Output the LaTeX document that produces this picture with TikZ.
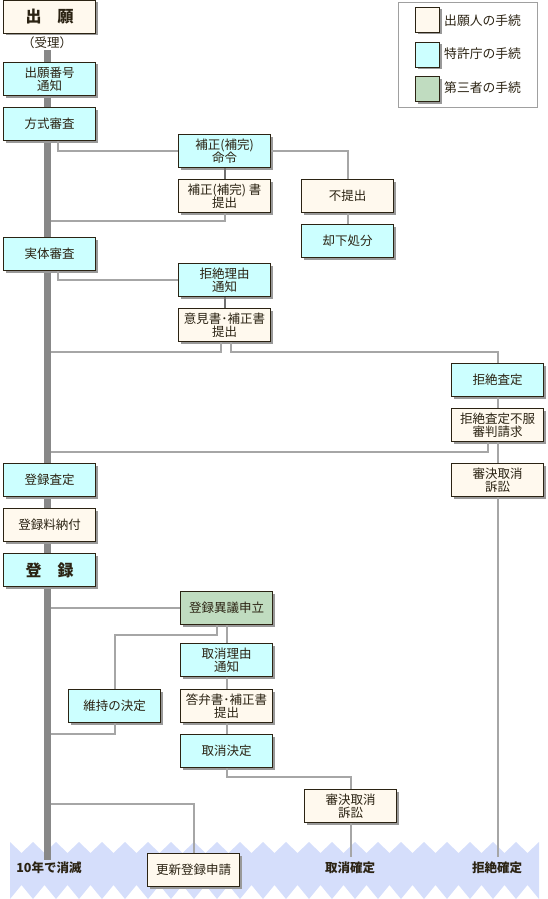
\documentclass[tikz,border=0pt]{standalone}
\usepackage{fontspec}
\setmainfont{Noto Sans CJK JP}
\usetikzlibrary{shadows}
\definecolor{cream}{HTML}{FFF9EE}
\definecolor{cyanbox}{HTML}{CCFFFF}
\definecolor{greenbox}{HTML}{C0DCC0}
\definecolor{edgecol}{HTML}{2B2313}
\definecolor{txt}{HTML}{2B2313}
\definecolor{conncol}{HTML}{A6A6A6}
\definecolor{conndark}{HTML}{707070}
\definecolor{barcol}{HTML}{888888}
\definecolor{wavecol}{HTML}{D5DEFB}
\definecolor{legframe}{HTML}{A0A0A0}
\tikzset{
  box/.style={draw=edgecol, line width=1pt, minimum width=92pt, minimum height=33pt,
    inner sep=0pt, anchor=north west, align=center, text=txt,
    font=\fontsize{12.5}{13}\selectfont,
    drop shadow={shadow xshift=2pt, shadow yshift=-2pt, fill=black!40, opacity=1}},
  titlebox/.style={box, font=\fontsize{16}{18}\selectfont\bfseries},
  swatch/.style={draw=edgecol, line width=1pt, minimum width=24pt, minimum height=25pt,
    inner sep=0pt, anchor=north west,
    drop shadow={shadow xshift=2pt, shadow yshift=-2pt, fill=black!40, opacity=1}},
  leglbl/.style={anchor=west, inner sep=0pt, text=txt, font=\fontsize{12.8}{13}\selectfont},
  lbl/.style={inner sep=0pt, text=txt, font=\fontsize{12.5}{13}\selectfont},
  endlbl/.style={inner sep=0pt, text=txt, font=\fontsize{12.5}{13}\selectfont\bfseries},
  conn/.style={draw=conncol, line width=2pt},
  conndk/.style={draw=conndark, line width=2pt},
}
\begin{document}
\begin{tikzpicture}[x=1pt, y=-1pt]
\useasboundingbox (0,0) rectangle (548,899);
% wave band
\fill[wavecol] (10,842)
  \foreach \k in {0,...,22} { -- ({21.5+23*\k},853) -- ({33+23*\k},842) }
  -- (539,899)
  \foreach \k in {22,...,0} { -- ({21.5+23*\k},885) -- ({10+23*\k},899) }
  -- cycle;
% main bar
\node[fill=barcol, minimum width=7.5pt, minimum height=810pt, inner sep=0pt, anchor=north] (bar) at (47.5,50) {};
% legend
\node[draw=legframe, line width=1pt, minimum width=139pt, minimum height=105pt, inner sep=0pt, anchor=north west] (legend) at (398,2) {};
\node[swatch, fill=cream] (sw1) at (415,7) {};
\node[swatch, fill=cyanbox] (sw2) at (415,42) {};
\node[swatch, fill=greenbox] (sw3) at (415,76) {};
\node[leglbl] (lg1) at (444,20.5) {出願人の手続};
\node[leglbl] (lg2) at (444,54) {特許庁の手続};
\node[leglbl] (lg3) at (444,88) {第三者の手続};
% boxes
\node[titlebox, fill=cream] (A) at (3,0) {出　願};
\node[lbl] (recv) at (47,43) {（受理）};
\node[box, fill=cyanbox] (B) at (3,62) {出願番号\\通知};
\node[box, fill=cyanbox] (C) at (3,107) {方式審査};
\node[box, fill=cyanbox] (D) at (178,134) {補正(補完)\\命令};
\node[box, fill=cream] (E) at (178,179) {補正(補完) 書\\提出};
\node[box, fill=cream] (F) at (301,179) {不提出};
\node[box, fill=cyanbox] (G) at (301,224) {却下処分};
\node[box, fill=cyanbox] (H) at (3,237) {実体審査};
\node[box, fill=cyanbox] (I) at (178,263) {拒絶理由\\通知};
\node[box, fill=cream] (J) at (178,308) {意見書･補正書\\提出};
\node[box, fill=cyanbox] (K) at (451,363) {拒絶査定};
\node[box, fill=cream] (L) at (451,408) {拒絶査定不服\\審判請求};
\node[box, fill=cream] (M) at (451,463) {審決取消\\訴訟};
\node[box, fill=cyanbox] (N) at (3,463) {登録査定};
\node[box, fill=cream] (O) at (3,508) {登録料納付};
\node[titlebox, fill=cyanbox] (P) at (3,553) {登　録};
\node[box, fill=greenbox] (Q) at (180,591) {登録異議申立};
\node[box, fill=cyanbox] (R) at (180,643) {取消理由\\通知};
\node[box, fill=cyanbox] (S) at (68,689) {維持の決定};
\node[box, fill=cream] (T) at (180,689) {答弁書･補正書\\提出};
\node[box, fill=cyanbox] (U) at (180,734) {取消決定};
\node[box, fill=cream] (V) at (304,789) {審決取消\\訴訟};
% end labels
\node[endlbl] (end1) at (49,868) {10年で消滅};
\node[endlbl] (end2) at (350,868) {取消確定};
\node[endlbl] (end3) at (497,868) {拒絶確定};
% connectors
\draw[conn] ([xshift=55pt]C.south west) |- (D.west);
\draw[conn] (D.east) -| (F.north);
\draw[conndk] (D.south) -- (E.north);
\draw[conn] (E.south) -- ++(0,8) coordinate (e1) -- (e1 -| bar.east);
\draw[conn] (F.south) -- (G.north);
\draw[conn] ([xshift=55pt]H.south west) |- (I.west);
\draw[conndk] (I.south) -- (J.north);
\draw[conn] ([xshift=-4pt]J.south) -- ++(0,10) coordinate (j1) -- (j1 -| bar.east);
\draw[conn] ([xshift=6pt]J.south) -- ++(0,10) -| (K.north);
\draw[conn] (K.south) -- (L.north);
\draw[conn] ([xshift=-10pt]L.south) -- ++(0,10) coordinate (l1) -- (l1 -| bar.east);
\draw[conn] (L.south) -- (M.north);
\draw[conn] (M.south) -- ++(0,360) coordinate (mend);
\draw[conn] (Q.west) -- (Q.west -| bar.east);
\draw[conn] ([xshift=-10pt]Q.south) -- ++(0,10) -| (S.north);
\draw[conn] (Q.south) -- (R.north);
\draw[conn] (R.south) -- (T.north);
\draw[conn] (T.south) -- (U.north);
\draw[conn] (S.south) -- ++(0,11) coordinate (s1) -- (s1 -| bar.east);
\draw[conn] (U.south) -- ++(0,9) -| (V.north);
\draw[conn] (V.south) -- ++(0,34) coordinate (vend);
\node[box, fill=cream] (W) at (147,853) {更新登録申請};
\draw[conn] (W.north) -- ++(0,-49) coordinate (w1) -- (w1 -| bar.east);
\end{tikzpicture}
\end{document}
